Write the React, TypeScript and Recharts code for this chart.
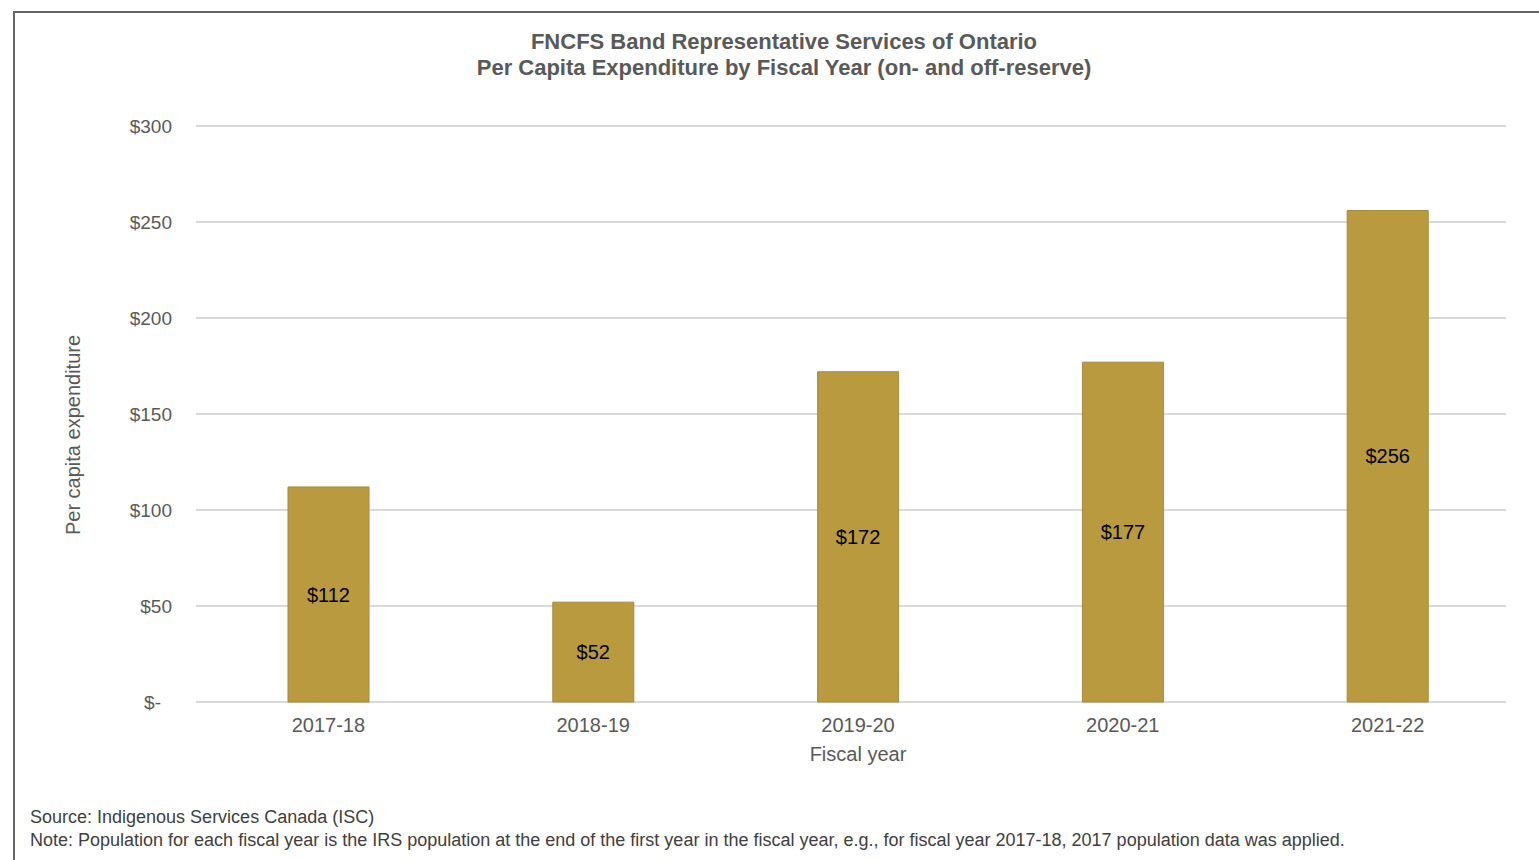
import React from 'react';
import { BarChart, Bar, XAxis, YAxis, CartesianGrid, LabelList, Label } from 'recharts';

const years = ['2017-18', '2018-19', '2019-20', '2020-21', '2021-22'];
const perCapita = [112, 52, 172, 177, 256];
const yTicks = [0, 50, 100, 150, 200, 250, 300];

const data = years.map((y, i) => ({ year: y, value: perCapita[i] }));

const FONT = 'Liberation Sans, Arial, sans-serif';
const GREY = '#595959';

const YTick = (props: any) => {
  const { x, y, payload } = props;
  const v = payload.value;
  const txt = v === 0 ? '$-' : `$${v}`;
  return (
    <text x={v === 0 ? x - 11 : x} y={y} dy={7} textAnchor="end" fill={GREY} fontSize={19} fontFamily={FONT}>
      {txt}
    </text>
  );
};

const YLabel = () => (
  <text x={0} y={0} transform="translate(80, 435) rotate(-90)" textAnchor="middle" fill={GREY} fontSize={20} fontFamily={FONT}>
    Per capita expenditure
  </text>
);

export default function App() {
  return (
    <div style={{ position: 'absolute', left: 0, top: 0, width: 1539, height: 860, background: '#fff', overflow: 'hidden', fontFamily: FONT }}>
      <div style={{ position: 'absolute', left: 13, top: 11, width: 1526, height: 2, background: '#666' }} />
      <div style={{ position: 'absolute', left: 13, top: 11, width: 2, height: 849, background: '#666' }} />
      <div style={{ position: 'absolute', left: 0, top: 29, width: 1568, textAlign: 'center', fontWeight: 'bold', fontSize: 22, color: GREY, lineHeight: '26px' }}>
        FNCFS Band Representative Services of Ontario
        <br />
        Per Capita Expenditure by Fiscal Year (on- and off-reserve)
      </div>
      <div style={{ position: 'absolute', left: 0, top: 0 }}>
        <BarChart width={1539} height={860} data={data} margin={{ top: 126, right: 19, bottom: 78, left: 0 }} barCategoryGap={92}>
          <CartesianGrid horizontal vertical={false} stroke="#d9d9d9" strokeWidth={2} x={196} width={1310} />
          <XAxis dataKey="year" axisLine={false} tickLine={false} tickSize={0} tickMargin={16} tick={{ fill: GREY, fontSize: 20, fontFamily: FONT }} height={80}>
            <Label value="Fiscal year" position="insideTop" offset={45} fill={GREY} fontSize={20} fontFamily={FONT} />
          </XAxis>
          <YAxis width={196} domain={[0, 300]} ticks={yTicks} axisLine={false} tickLine={false} tickSize={0} tickMargin={24} tick={<YTick />} interval={0}>
            <Label content={<YLabel />} />
          </YAxis>
          <Bar dataKey="value" fill="#B99A3F" stroke="#A8893A" strokeWidth={1} isAnimationActive={false}>
            <LabelList dataKey="value" position="center" formatter={(v: any) => `$${v}`} fill="#000" fontSize={20} fontFamily={FONT} />
          </Bar>
        </BarChart>
      </div>
      <div style={{ position: 'absolute', left: 30, top: 806, fontSize: 18, color: '#404040', lineHeight: '23px' }}>
        Source: Indigenous Services Canada (ISC)
        <br />
        Note: Population for each fiscal year is the IRS population at the end of the first year in the fiscal year, e.g., for fiscal year 2017-18, 2017 population data was applied.
      </div>
    </div>
  );
}
